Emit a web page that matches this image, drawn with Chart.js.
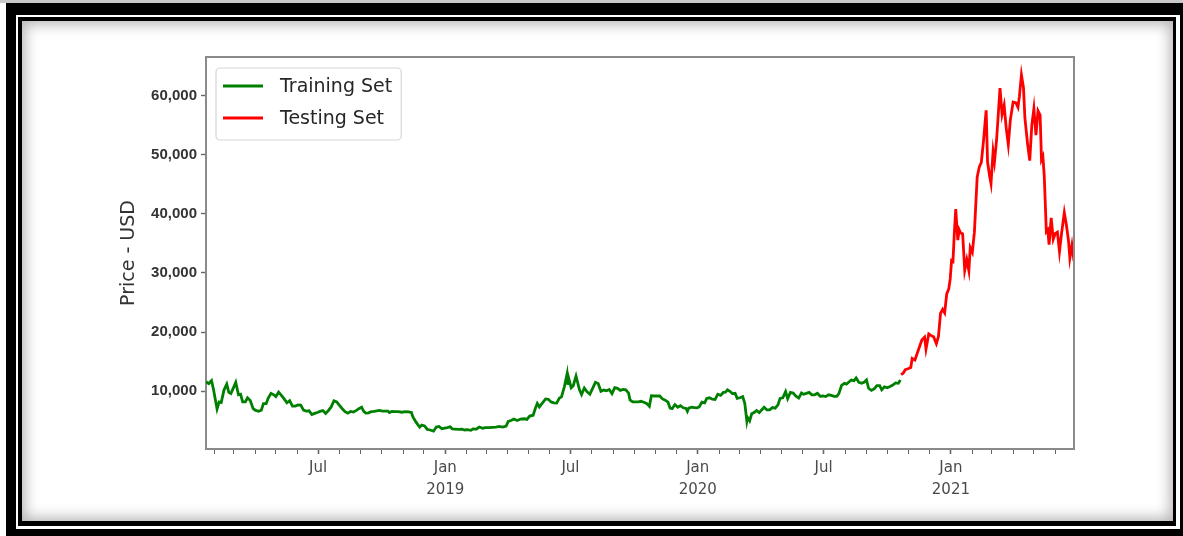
<!DOCTYPE html>
<html>
<head>
<meta charset="utf-8">
<script src="https://cdn.jsdelivr.net/npm/chart.js@4.4.1/dist/chart.umd.min.js"></script>
<style>
html,body{margin:0;padding:0;background:#fff;width:1183px;height:536px;overflow:hidden;}
#topstrip{position:absolute;left:0;top:0;width:1183px;height:3px;background:#c8c8c8}
#outer{position:absolute;left:6px;top:3px;width:1177px;height:533px;background:#000}
#gap{position:absolute;left:16px;top:15px;width:1164px;height:514px;background:#fff}
#inner{position:absolute;left:18px;top:17px;width:1158px;height:509px;background:#000}
#panel{position:absolute;left:22px;top:21px;width:1151px;height:500px;background:#fff;box-shadow:inset 0 0 14px 3px rgba(0,0,0,0.3)}
#chart{position:absolute;left:0;top:0}
</style>
</head>
<body>
<div id="topstrip"></div>
<div id="outer"></div>
<div id="gap"></div>
<div id="inner"></div>
<div id="panel"></div>
<canvas id="chart" width="1183" height="536"></canvas>
<script>
// ---------------- DATA ----------------
const seriesNames = ['Training Set', 'Testing Set'];
const yAxisTitle = 'Price - USD';

const trainingDates = [
'2018-01-20','2018-01-24','2018-01-28','2018-01-31','2018-02-02','2018-02-05','2018-02-08','2018-02-11','2018-02-15','2018-02-19',
'2018-02-22','2018-02-25','2018-02-28','2018-03-04','2018-03-08','2018-03-11','2018-03-14','2018-03-18','2018-03-21','2018-03-25',
'2018-03-29','2018-04-01','2018-04-06','2018-04-10','2018-04-13','2018-04-17','2018-04-20','2018-04-24','2018-04-28','2018-05-01',
'2018-05-05','2018-05-09','2018-05-13','2018-05-17','2018-05-21','2018-05-25','2018-05-29','2018-06-02','2018-06-06','2018-06-10',
'2018-06-14','2018-06-18','2018-06-22','2018-06-26','2018-06-30','2018-07-04','2018-07-08','2018-07-12','2018-07-16','2018-07-20',
'2018-07-24','2018-07-28','2018-08-01','2018-08-05','2018-08-09','2018-08-13','2018-08-17','2018-08-21','2018-08-25','2018-08-29',
'2018-09-02','2018-09-05','2018-09-08','2018-09-12','2018-09-16','2018-09-20','2018-09-24','2018-09-28','2018-10-02','2018-10-06',
'2018-10-10','2018-10-12','2018-10-16','2018-10-20','2018-10-25','2018-10-30','2018-11-04','2018-11-09','2018-11-13','2018-11-15',
'2018-11-19','2018-11-22','2018-11-25','2018-11-28','2018-12-02','2018-12-06','2018-12-10','2018-12-15','2018-12-19','2018-12-23',
'2018-12-27','2018-12-31','2019-01-04','2019-01-08','2019-01-11','2019-01-15','2019-01-20','2019-01-25','2019-01-29','2019-02-02',
'2019-02-07','2019-02-10','2019-02-15','2019-02-19','2019-02-24','2019-02-28','2019-03-05','2019-03-10','2019-03-15','2019-03-20',
'2019-03-25','2019-03-30','2019-04-02','2019-04-06','2019-04-10','2019-04-15','2019-04-20','2019-04-25','2019-04-29','2019-05-03',
'2019-05-08','2019-05-11','2019-05-14','2019-05-17','2019-05-21','2019-05-26','2019-05-30','2019-06-03','2019-06-07','2019-06-11',
'2019-06-15','2019-06-18','2019-06-22','2019-06-26','2019-06-27','2019-06-28','2019-07-02','2019-07-05','2019-07-09','2019-07-14',
'2019-07-17','2019-07-21','2019-07-25','2019-07-29','2019-08-02','2019-08-06','2019-08-10','2019-08-14','2019-08-18','2019-08-22',
'2019-08-26','2019-08-30','2019-09-03','2019-09-07','2019-09-11','2019-09-15','2019-09-19','2019-09-23','2019-09-25','2019-09-29',
'2019-10-03','2019-10-07','2019-10-11','2019-10-15','2019-10-19','2019-10-23','2019-10-26','2019-10-30','2019-11-03','2019-11-07',
'2019-11-11','2019-11-15','2019-11-19','2019-11-22','2019-11-25','2019-11-29','2019-12-03','2019-12-07','2019-12-11','2019-12-15',
'2019-12-17','2019-12-19','2019-12-23','2019-12-27','2019-12-31','2020-01-03','2020-01-07','2020-01-11','2020-01-14','2020-01-18',
'2020-01-22','2020-01-26','2020-01-30','2020-02-03','2020-02-07','2020-02-10','2020-02-13','2020-02-17','2020-02-20','2020-02-24',
'2020-02-27','2020-03-02','2020-03-06','2020-03-09','2020-03-12','2020-03-13','2020-03-16','2020-03-19','2020-03-23','2020-03-26',
'2020-03-30','2020-04-02','2020-04-06','2020-04-10','2020-04-14','2020-04-18','2020-04-22','2020-04-26','2020-04-29','2020-05-03',
'2020-05-07','2020-05-10','2020-05-14','2020-05-18','2020-05-22','2020-05-26','2020-05-30','2020-06-02','2020-06-06','2020-06-10',
'2020-06-14','2020-06-18','2020-06-22','2020-06-26','2020-06-30','2020-07-04','2020-07-08','2020-07-12','2020-07-16','2020-07-20',
'2020-07-23','2020-07-27','2020-07-31','2020-08-03','2020-08-07','2020-08-10','2020-08-14','2020-08-17','2020-08-21','2020-08-25',
'2020-08-29','2020-09-01','2020-09-04','2020-09-08','2020-09-12','2020-09-16','2020-09-20','2020-09-23','2020-09-27','2020-10-01',
'2020-10-05','2020-10-09','2020-10-13','2020-10-17','2020-10-20'
];
const trainingPrices = [
11600,11300,11800,10200,8900,7000,8200,8100,10200,11200,
9800,9600,10400,11500,9400,9500,8200,8200,8900,8450,
7100,6800,6600,6800,7900,7900,8850,9650,9400,9100,
9850,9300,8700,8050,8400,7500,7500,7700,7650,6800,
6650,6700,6050,6250,6400,6600,6750,6250,6750,7350,
8400,8200,7600,7050,6550,6300,6580,6480,6720,7050,
7300,6600,6300,6350,6550,6600,6700,6750,6650,6650,
6650,6400,6600,6550,6550,6450,6550,6500,6400,5700,
4900,4400,3950,4300,4150,3550,3450,3250,3950,4050,
3650,3750,3850,4000,3650,3600,3550,3580,3450,3500,
3400,3650,3600,3950,3750,3850,3850,3900,3950,4050,
3950,4100,4900,5050,5300,5050,5300,5350,5250,5800,
5950,7050,7950,7350,7950,8700,8650,8200,8050,8000,
8850,9050,10700,12900,11100,12400,10600,10950,12550,10250,
9450,10550,9900,9500,10500,11500,11300,10000,10200,10100,
10300,9600,10600,10500,10150,10300,10250,9700,8550,8200,
8200,8200,8300,8150,7950,7450,9250,9200,9200,9200,
8700,8500,8150,7150,7050,7750,7300,7550,7200,7100,
6600,7150,7300,7250,7200,7350,8150,8050,8800,8900,
8650,8600,9500,9300,9800,9850,10250,9950,9600,9650,
8800,8900,9100,7950,4950,5550,5000,6200,6450,6750,
6400,6800,7300,6850,6850,7250,7150,7700,8800,8900,
9950,8750,9800,9700,9150,8850,9700,9500,9650,9800,
9400,9400,9650,9150,9200,9100,9400,9300,9150,9150,
9600,11000,11350,11200,11600,11900,11800,12250,11500,11350,
11550,11900,10500,10150,10400,10950,10950,10250,10750,10600,
10800,11050,11400,11350,11900
];

const testingDates = [
'2020-10-21','2020-10-24','2020-10-27','2020-10-31','2020-11-04','2020-11-06','2020-11-10','2020-11-13','2020-11-17','2020-11-20',
'2020-11-24','2020-11-26','2020-11-30','2020-12-03','2020-12-07','2020-12-11','2020-12-14','2020-12-17','2020-12-20','2020-12-23',
'2020-12-26','2020-12-29','2020-12-31','2021-01-02','2021-01-04','2021-01-06','2021-01-08','2021-01-11','2021-01-13','2021-01-15',
'2021-01-18','2021-01-21','2021-01-24','2021-01-27','2021-01-29','2021-02-01','2021-02-04','2021-02-08','2021-02-11','2021-02-14',
'2021-02-17','2021-02-21','2021-02-23','2021-02-26','2021-02-28','2021-03-03','2021-03-05','2021-03-08','2021-03-10','2021-03-13',
'2021-03-16','2021-03-19','2021-03-22','2021-03-25','2021-03-28','2021-04-01','2021-04-05','2021-04-08','2021-04-10','2021-04-13',
'2021-04-16','2021-04-18','2021-04-22','2021-04-25','2021-04-28','2021-05-01','2021-05-04','2021-05-07','2021-05-10','2021-05-12',
'2021-05-14','2021-05-16','2021-05-19','2021-05-21','2021-05-23','2021-05-26','2021-05-29','2021-06-01','2021-06-04','2021-06-07',
'2021-06-10','2021-06-14','2021-06-17','2021-06-20','2021-06-22','2021-06-25','2021-06-28'
];
const testingPrices = [
12800,13050,13650,13800,14000,15550,15300,16300,17650,18650,
19150,17150,19700,19450,19200,18050,19250,23150,23850,23250,
26450,27350,29000,32100,31950,36800,40800,35550,37300,36800,
36600,30450,32250,30400,34300,33500,36900,46200,47900,48700,
52150,57500,48800,46350,45100,50500,48800,52400,55900,61250,
56800,58350,54500,51700,55900,58900,58750,58000,59800,63500,
61300,56200,51700,49000,55000,57800,53300,57400,56700,49150,
49700,46400,37000,37300,34800,39300,35700,36700,36900,33600,
36700,40200,38100,35500,32500,34700,32000
];

const yTickValues = [10000, 20000, 30000, 40000, 50000, 60000];
const xMajorTickDates = ['2018-07-01','2019-01-01','2019-07-01','2020-01-01','2020-07-01','2021-01-01'];
const xMajorTickLabels = [['Jul'], ['Jan','2019'], ['Jul'], ['Jan','2020'], ['Jul'], ['Jan','2021']];

// ---------------- helpers ----------------
const DAY = 86400000, BASE = Date.UTC(2018, 0, 1);
function toDay(s){ const p = s.split('-').map(Number); return Math.round((Date.UTC(p[0], p[1]-1, p[2]) - BASE) / DAY); }
const majorDays = xMajorTickDates.map(toDay);

const trainPts = trainingDates.map((d, i) => ({x: toDay(d), y: trainingPrices[i]}));
const testPts = testingDates.map((d, i) => ({x: toDay(d), y: testingPrices[i]}));

const allPrices = trainingPrices.concat(testingPrices);
const pMin = Math.min(...allPrices), pMax = Math.max(...allPrices);
const pad = (pMax - pMin) * 0.05;
const xMin = trainPts[0].x, xMax = testPts[testPts.length - 1].x;

const PLOT = {left: 206, top: 57, right: 1074, bottom: 449};
const SPINE = '#8a8a8a';

const framePlugin = {
  id: 'frame',
  afterDraw(chart) {
    const {ctx, chartArea: a} = chart;
    ctx.save();
    ctx.strokeStyle = SPINE; ctx.lineWidth = 2;
    ctx.beginPath();
    ctx.moveTo(a.left, a.top); ctx.lineTo(a.right, a.top); ctx.lineTo(a.right, a.bottom);
    ctx.stroke();
    ctx.restore();
  }
};

const legendPlugin = {
  id: 'mplLegend',
  afterDatasetsDraw(chart) {
    const {ctx, chartArea: a} = chart;
    const ds = chart.data.datasets;
    ctx.save();
    ctx.font = '19px "DejaVu Sans"';
    const tw = Math.max(...ds.map(d => ctx.measureText(d.label).width));
    const bx = a.left + 10, by = a.top + 11, bw = 64 + tw + 9, bh = 72;
    ctx.beginPath();
    ctx.roundRect(bx, by, bw, bh, 4);
    ctx.fillStyle = 'rgba(255,255,255,0.85)';
    ctx.fill();
    ctx.strokeStyle = '#d6d6d6'; ctx.lineWidth = 1.2;
    ctx.stroke();
    ds.forEach((d, i) => {
      const y = a.top + 29 + i * 32;
      ctx.strokeStyle = d.borderColor; ctx.lineWidth = 2.8;
      ctx.beginPath(); ctx.moveTo(a.left + 17, y); ctx.lineTo(a.left + 57, y); ctx.stroke();
      ctx.fillStyle = '#262626'; ctx.textBaseline = 'middle'; ctx.textAlign = 'left';
      ctx.fillText(d.label, a.left + 74, y + 1);
    });
    ctx.restore();
  }
};

new Chart(document.getElementById('chart'), {
  type: 'line',
  data: {
    datasets: [
      {label: seriesNames[0], data: trainPts, borderColor: '#008000', backgroundColor: '#008000', borderWidth: 2.8, pointRadius: 0, tension: 0},
      {label: seriesNames[1], data: testPts, borderColor: '#ff0000', backgroundColor: '#ff0000', borderWidth: 2.8, pointRadius: 0, tension: 0}
    ]
  },
  options: {
    responsive: false,
    animation: false,
    devicePixelRatio: 1,
    layout: {padding: {left: 0, top: PLOT.top, right: 1183 - PLOT.right, bottom: 0}},
    plugins: {legend: {display: false}, tooltip: {enabled: false}},
    scales: {
      x: {
        type: 'linear',
        min: xMin, max: xMax,
        afterBuildTicks(s) {
          const t = [];
          for (let y = 2018; y <= 2021; y++) for (let m = 0; m < 12; m++) {
            const v = Math.round((Date.UTC(y, m, 1) - BASE) / DAY);
            if (v >= s.min && v <= s.max) t.push({value: v});
          }
          s.ticks = t;
        },
        afterFit(s) { s.height = 536 - PLOT.bottom; },
        ticks: {
          autoSkip: false, maxRotation: 0, minRotation: 0, padding: 3,
          color: '#4a4a4a',
          font: {family: '"DejaVu Sans"', size: 15, lineHeight: 1.45},
          callback(v) { const k = majorDays.indexOf(v); return k >= 0 ? xMajorTickLabels[k] : ''; }
        },
        grid: {display: true, drawOnChartArea: false, drawTicks: true, tickLength: 5,
               tickColor: '#666', tickWidth: c => (majorDays.indexOf(c.tick && c.tick.value) >= 0 ? 1.6 : 1)},
        border: {display: true, color: SPINE, width: 2}
      },
      y: {
        type: 'linear',
        min: pMin - pad, max: pMax + pad,
        afterBuildTicks(s) { s.ticks = yTickValues.map(v => ({value: v})); },
        afterFit(s) { s.width = PLOT.left; },
        ticks: {
          padding: 4, color: '#333',
          font: {family: '"Liberation Sans"', size: 15, weight: 'bold'},
          callback: v => v.toLocaleString('en-US')
        },
        grid: {display: true, drawOnChartArea: false, drawTicks: true, tickLength: 5, tickColor: '#666', tickWidth: 1.4},
        border: {display: true, color: SPINE, width: 2},
        title: {display: true, text: yAxisTitle, color: '#333', font: {family: '"DejaVu Sans"', size: 19}, padding: {top: 118, bottom: 0}}
      }
    }
  },
  plugins: [framePlugin, legendPlugin]
});
</script>
</body>
</html>
